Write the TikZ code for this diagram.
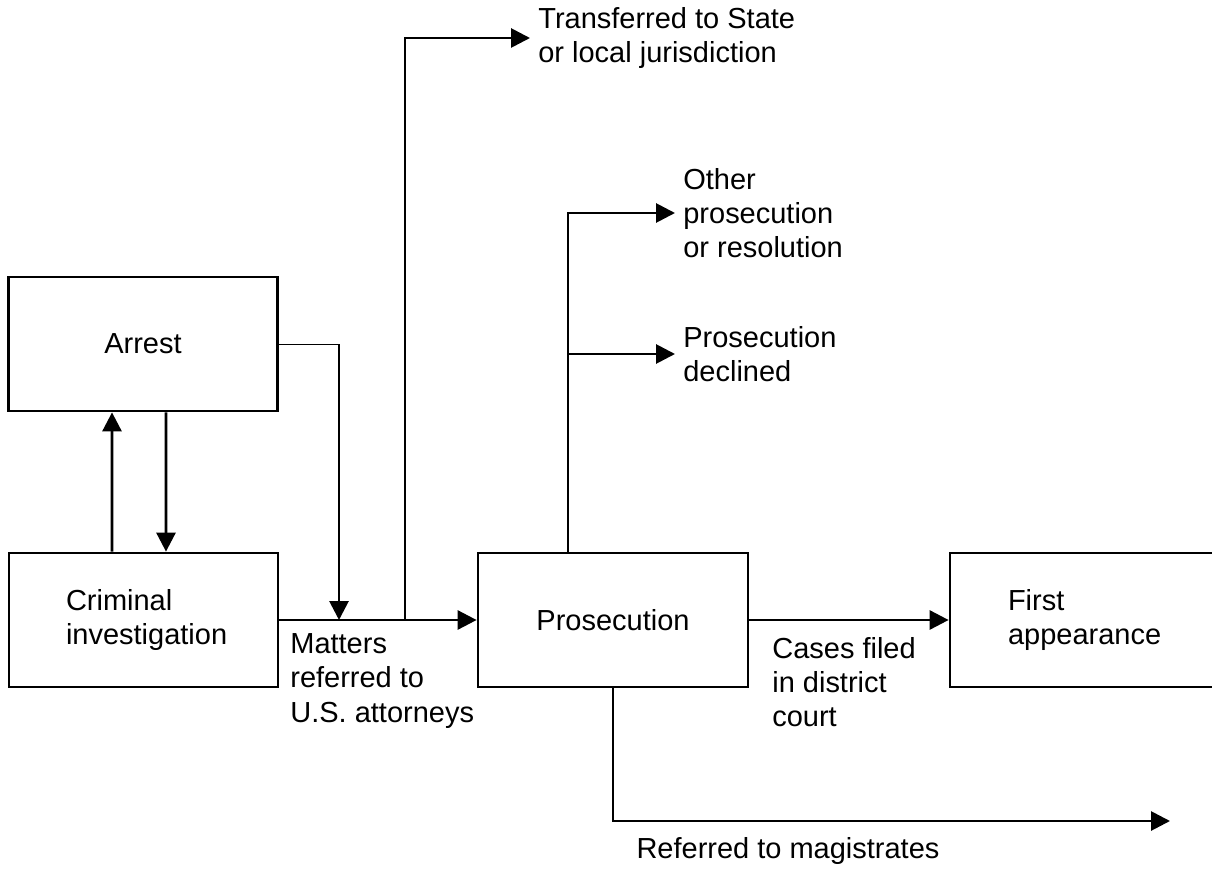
\documentclass[tikz,border=0pt]{standalone}
\usepackage{fontspec}
\setmainfont{Liberation Sans}
\usetikzlibrary{arrows.meta}

\begin{document}
\begin{tikzpicture}[x=0.02cm, y=-0.02cm,
		every node/.style={font=\fontsize{16.5}{19.5}\selectfont},
		box/.style={draw, line width=1.6pt, inner sep=0pt, minimum width=5.38cm, minimum height=2.68cm},
		lbl/.style={anchor=west, align=left, inner xsep=0.16cm, inner ysep=0pt},
		flow/.style={line width=1.6pt, -{Triangle[length=0.38cm, width=0.38cm]}},
		wire/.style={line width=1.6pt}]
			%%%%% START %%%%%
			\useasboundingbox (0,0) rectangle (1212,871);
			
			\node[box] (arrest) at (143,344) {Arrest};
			\node[box, align=left, text width=3.1cm, inner xsep=1.14cm] (crim) at (143.5,620) {Criminal\\investigation};
			\node[box, minimum width=5.4cm] (pros) at (613,620) {Prosecution};
			\node[box, minimum width=5.8cm, align=left, text width=3.48cm, inner xsep=1.16cm] (first) at (1095,620) {First\\appearance};
			
			\node[lbl] (xfer) at (530,38) {Transferred to State\\or local jurisdiction};
			\node[lbl] (other) at (675,213) {Other\\prosecution\\or resolution};
			\node[lbl] (declined) at (675,354) {Prosecution\\declined};
			\node[lbl] (matters) at (282,681) {Matters\\referred to\\U.S. attorneys};
			\node[lbl] (cases) at (764,682) {Cases filed\\in district\\court};
			\node (magis) at (788,851) {Referred to magistrates};
			
			\coordinate (bend) at (339,344);
			\coordinate (join) at (339,620);
			\coordinate (fork) at (405,620);
			\coordinate (ptop) at (568,552);
			\coordinate (magend) at (1170,821);
			
			% arrest <-> investigation
			\draw[flow] ([xshift=-0.63cm]crim.north) -- ([xshift=-0.62cm]arrest.south);
			\draw[flow] ([xshift=0.46cm]arrest.south) -- ([xshift=0.45cm]crim.north);
			
			% matters referred
			\draw[line width=0.5pt] (arrest.east) -- (bend);
			\draw[flow] (bend) -- (join);
			\draw[flow] (crim.east) -- (pros.west);
			\draw[flow] (fork) |- (xfer.west);
			
			% outcomes of prosecution
			\draw[flow] (ptop) |- (other.west);
			\draw[flow] (ptop |- declined.west) -- (declined.west);
			\draw[flow] (pros.east) -- (first.west);
			\draw[flow] (pros.south) |- (magend);
			
			%%%%% END %%%%%
		\end{tikzpicture}
\end{document}
